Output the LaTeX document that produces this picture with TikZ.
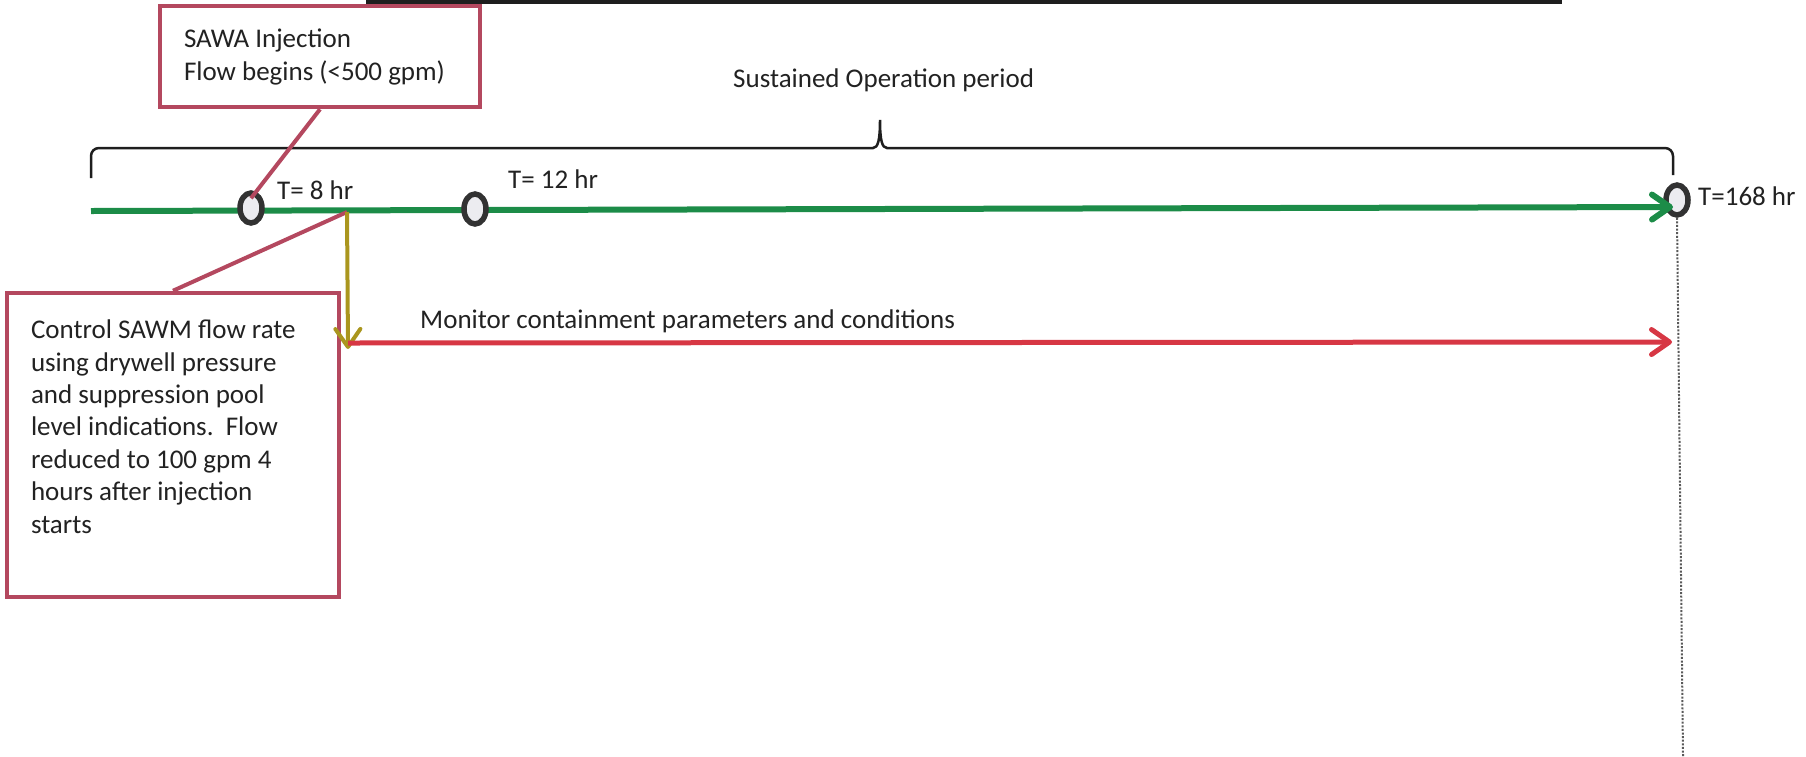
\documentclass[tikz,border=0pt]{standalone}
\usepackage{fontspec}
\setmainfont{Carlito}
\usetikzlibrary{arrows.meta,shapes.geometric,calc}
\definecolor{boxred}{RGB}{180,72,95}
\definecolor{linered}{RGB}{215,55,68}
\definecolor{linegreen}{RGB}{28,140,72}
\definecolor{oliveline}{RGB}{170,150,30}
\definecolor{ovalgray}{RGB}{50,50,50}
\definecolor{ovalfill}{RGB}{236,236,240}
\definecolor{txt}{RGB}{34,34,34}
\definecolor{bar}{RGB}{30,30,30}
\begin{document}
\begin{tikzpicture}[x=1pt,y=-1pt,
  bodyfont/.style={font=\fontsize{27}{32.4}\selectfont, text=txt},
  callout/.style={draw=boxred, line width=4.5pt, fill=white, inner sep=0pt, bodyfont},
  oval/.style={ellipse, draw=ovalgray, fill=ovalfill, line width=5.5pt, minimum width=22pt, minimum height=30pt, inner sep=0pt},
  lbl/.style={anchor=base west, inner sep=0pt, bodyfont},
  leader/.style={draw=boxred, line width=4pt},
  barb/.style={-{Straight Barb[length=18pt,width=25pt,round]}},
  bracketline/.style={draw=bar, line width=2.5pt},
  dotline/.style={draw=black!65, line width=2pt, dash pattern=on 2pt off 1.6pt}
]
\useasboundingbox (0,0) rectangle (1806,756);

% top bar
\fill[bar] (366,0) rectangle (1562,4);

% bracket
\draw[bracketline] (91,178) [rounded corners=8pt] -- (91,148) [sharp corners] -- (873,148)
  .. controls (878,148) and (880,140) .. (880,120)
  .. controls (880,140) and (882,148) .. (887,148) [rounded corners=8pt] -- (1673,148) -- (1673,175);
\node[lbl] (sop) at (733,87) {Sustained Operation period};

% end circle
\node[oval] (c3) at (1677,200) {};

% timeline
\coordinate (tl0) at (91,211);
\coordinate (gtip) at (1673,207);
\draw[barb, draw=linegreen, line width=6pt] (tl0) -- (gtip);

\node[oval] (c1) at (251,208) {};
\node[oval] (c2) at (475,209) {};

% boxes
\node[callout, minimum width=320pt, minimum height=101pt] (sawa) at (320,56.5)
  {\parbox{272pt}{\raggedright\fontsize{27}{33}\selectfont SAWA Injection\\ Flow begins (<500 gpm)}};
\node[callout, minimum width=332pt, minimum height=304pt] (ctrl) at (173,445)
  {\parbox[c][250pt][t]{284pt}{\raggedright Control SAWM flow rate\\ using drywell pressure\\ and suppression pool\\ level indications.\ \ Flow\\ reduced to 100 gpm 4\\ hours after injection\\ starts}};

% leaders
\coordinate (j8) at (347,212);
\draw[leader] (sawa.south) -- ($(c1.center)!0.55!(c1.north)$);
\draw[leader] (ctrl.north) -- (j8);

% monitor arrows
\coordinate (ytip) at (348,349);
\coordinate (m0) at (348,343);
\coordinate (mtip) at (1672,342);
\draw[barb, draw=oliveline, line width=4pt] (j8) -- (ytip);
\draw[barb, draw=linered, line width=5pt] (m0) -- (mtip);
\node[lbl] (mon) at (420,328) {Monitor containment parameters and conditions};

% time labels
\node[lbl] (t8) at (277,199) {T= 8 hr};
\node[lbl] (t12) at (508,188) {T= 12 hr};
\node[lbl] (t168) at (1698,205) {T=168 hr};

% dotted end line
\coordinate (dotend) at (1683,756);
\draw[dotline] (c3.south) -- (dotend);
\end{tikzpicture}
\end{document}
